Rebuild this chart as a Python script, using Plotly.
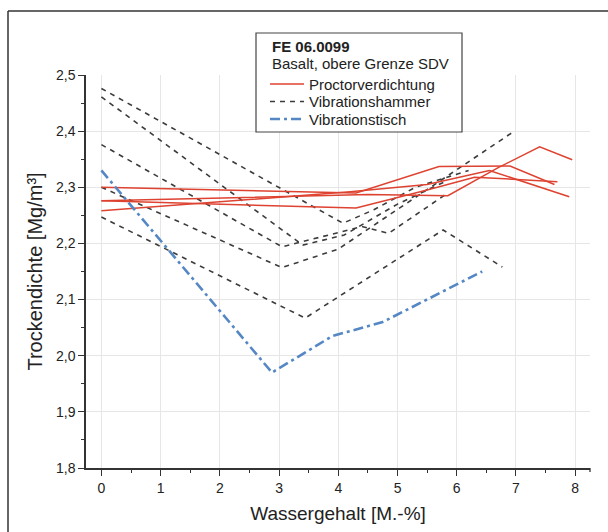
import plotly.graph_objects as go

# ---- data ----
proctor_x_1 = [0, 4.3, 5.7, 6.9, 7.65]
proctor_y_1 = [2.300, 2.290, 2.337, 2.338, 2.305]
proctor_x_2 = [0, 4.2, 5.5, 6.55, 7.9]
proctor_y_2 = [2.258, 2.292, 2.305, 2.330, 2.283]
proctor_x_3 = [0, 4.5, 5.85, 6.7, 7.4, 7.95]
proctor_y_3 = [2.276, 2.287, 2.285, 2.335, 2.372, 2.349]
proctor_x_4 = [0, 4.3, 5.5, 6.3, 7.7]
proctor_y_4 = [2.276, 2.263, 2.295, 2.318, 2.310]

hammer_x_1 = [0, 4.08, 4.6, 5.3, 6.2]
hammer_y_1 = [2.476, 2.236, 2.26, 2.30, 2.33]
hammer_x_2 = [0, 3.4, 4.1, 5.0, 5.8]
hammer_y_2 = [2.461, 2.197, 2.215, 2.27, 2.31]
hammer_x_3 = [0, 3.05, 4.0, 6.93]
hammer_y_3 = [2.300, 2.157, 2.19, 2.397]
hammer_x_4 = [0, 3.05, 4.4, 4.85, 5.85]
hammer_y_4 = [2.376, 2.194, 2.23, 2.218, 2.29]
hammer_x_5 = [0, 3.44, 5.77, 6.77]
hammer_y_5 = [2.247, 2.067, 2.224, 2.158]

tisch_x = [0, 2.88, 3.9, 4.75, 6.43]
tisch_y = [2.33, 1.97, 2.035, 2.06, 2.15]

x_ticks = [0, 1, 2, 3, 4, 5, 6, 7, 8]
y_ticks = [1.8, 1.9, 2.0, 2.1, 2.2, 2.3, 2.4, 2.5]

legend_title = ["<b>FE 06.0099</b>", "Basalt, obere Grenze SDV"]
series_names = ["Proctorverdichtung", "Vibrationshammer", "Vibrationstisch"]

# ---- styles ----
RED = "rgb(222,66,48)"
GRAY = "rgb(60,60,60)"
BLUE = "rgb(84,135,196)"
FONT = "Liberation Sans, Arial, sans-serif"
styles = {
    "Proctorverdichtung": dict(color=RED, width=1.5),
    "Vibrationshammer": dict(color=GRAY, width=1.6, dash="5px,5px"),
    "Vibrationstisch": dict(color=BLUE, width=2.6, dash="10px,4px,3px,4px"),
}

W, H = 608, 532
L, R, T, B = 86, 18, 75, 64
PW, PH = W - L - R, H - T - B

fig = go.Figure()

proctor = [(proctor_x_1, proctor_y_1), (proctor_x_2, proctor_y_2),
           (proctor_x_3, proctor_y_3), (proctor_x_4, proctor_y_4)]
hammer = [(hammer_x_1, hammer_y_1), (hammer_x_2, hammer_y_2), (hammer_x_3, hammer_y_3),
          (hammer_x_4, hammer_y_4), (hammer_x_5, hammer_y_5)]

for xs, ys in hammer:
    fig.add_trace(go.Scatter(x=xs, y=ys, mode="lines", name="Vibrationshammer",
                             showlegend=False, line=styles["Vibrationshammer"]))
for xs, ys in proctor:
    fig.add_trace(go.Scatter(x=xs, y=ys, mode="lines", name="Proctorverdichtung",
                             showlegend=False, line=styles["Proctorverdichtung"]))
fig.add_trace(go.Scatter(x=tisch_x, y=tisch_y, mode="lines", name="Vibrationstisch",
                         showlegend=False, line=styles["Vibrationstisch"]))

def px_x(p):
    return (p - L) / PW

def px_y(p):
    return (H - B - p) / PH

shapes = [
    dict(type="line", xref="paper", yref="paper", x0=px_x(8), x1=px_x(8),
         y0=px_y(11), y1=px_y(540), line=dict(color="#333", width=1.5)),
    dict(type="line", xref="paper", yref="paper", x0=px_x(8), x1=px_x(615),
         y0=px_y(11), y1=px_y(11), line=dict(color="#333", width=1.5)),
    dict(type="line", xref="paper", yref="paper", x0=1, x1=1,
         y0=0, y1=px_y(H - B + 4), line=dict(color="#333", width=1.3)),
    # legend box
    dict(type="rect", xref="paper", yref="paper", x0=px_x(256), x1=px_x(462),
         y0=px_y(132), y1=px_y(33), line=dict(color="#444", width=1.2), fillcolor="white"),
]
annotations = []
title_y = [46, 64]
for txt, yy in zip(legend_title, title_y):
    annotations.append(dict(xref="paper", yref="paper", x=px_x(270), y=px_y(yy),
                            xanchor="left", yanchor="middle", showarrow=False, text=txt,
                            font=dict(family=FONT, size=15, color="#222")))
item_y = [84, 101.5, 119]
for name, yy in zip(series_names, item_y):
    shapes.append(dict(type="line", xref="paper", yref="paper", x0=px_x(270), x1=px_x(304),
                       y0=px_y(yy), y1=px_y(yy), line=styles[name]))
    annotations.append(dict(xref="paper", yref="paper", x=px_x(307), y=px_y(yy),
                            xanchor="left", yanchor="middle", showarrow=False, text=name,
                            font=dict(family=FONT, size=15, color="#222")))

fig.update_layout(
    width=W, height=H,
    margin=dict(l=L, r=R, t=T, b=B),
    paper_bgcolor="white", plot_bgcolor="white",
    separators=", ",
    font=dict(family=FONT, color="#222", size=14),
    shapes=shapes, annotations=annotations,
    showlegend=False,
    xaxis=dict(
        range=[-0.26, 8.25], tickvals=x_ticks, ticktext=[str(v) for v in x_ticks],
        showgrid=True, gridcolor="#e6e6e6", gridwidth=1, zeroline=False,
        showline=True, linecolor="#333", linewidth=1.5,
        ticks="outside", ticklen=6, tickwidth=1.3, tickcolor="#333",
        minor=dict(dtick=0.5, tick0=0, ticks="outside", ticklen=3, tickwidth=1.1, tickcolor="#333", showgrid=False),
        tickfont=dict(family=FONT, size=14, color="#222"),
        title=dict(text="Wassergehalt [M.-%]", font=dict(family=FONT, size=19, color="#222"), standoff=12),
    ),
    yaxis=dict(
        range=[1.8, 2.5], tickvals=y_ticks, tickformat=".1f",
        showgrid=True, gridcolor="#e6e6e6", gridwidth=1, zeroline=False,
        showline=True, linecolor="#333", linewidth=1.5,
        ticks="outside", ticklen=6, tickwidth=1.3, tickcolor="#333",
        minor=dict(dtick=0.05, tick0=1.8, ticks="outside", ticklen=3, tickwidth=1.1, tickcolor="#333", showgrid=False),
        tickfont=dict(family=FONT, size=14, color="#222"),
        title=dict(text="Trockendichte [Mg/m³]", font=dict(family=FONT, size=20, color="#222"), standoff=8),
    ),
)

fig.write_html("out.html")
